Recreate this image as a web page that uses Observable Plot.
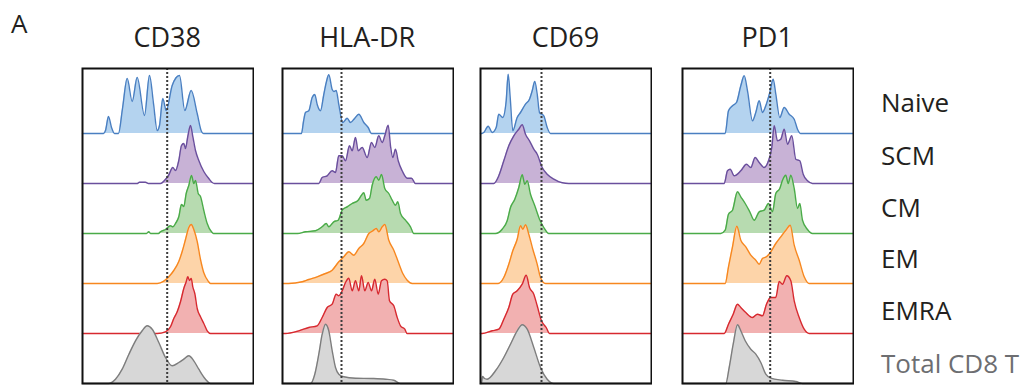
<!DOCTYPE html>
<html><head><meta charset="utf-8">
<script src="https://cdn.jsdelivr.net/npm/d3@7"></script>
<script src="https://cdn.jsdelivr.net/npm/@observablehq/plot@0.6"></script>
<style>
html,body{margin:0;padding:0;background:#fff;}
#wrap{position:relative;width:1035px;height:385px;overflow:hidden;font-family:"Open Sans",sans-serif;}
.panel{position:absolute;top:66px;}
#overlay{position:absolute;left:0;top:0;}
</style></head><body><div id="wrap"></div>
<script>
// ---------- categories ----------
const markers = ["CD38", "HLA-DR", "CD69", "PD1"];
const populations = ["Naive", "SCM", "CM", "EM", "EMRA", "Total CD8 T"];
// gate thresholds (dotted line), intensity units
const thresholds = [84.7, 59, 61, 87.7];
const intensityMax = 171;

// ---------- histograms: [intensity, count] ----------
const cd38Naive = [[21,0],[23,3],[26,17],[29,6],[32,0],[36,0],[40,25],[44.7,55],[49.7,32],[54.7,56],[62,18],[67,58],[71,30],[74.7,3],[77,8],[80.3,35],[83.7,23],[89.7,48],[97,58],[102.3,23],[108.7,43],[114.7,20],[119,2],[121,0]];
const cd38SCM = [[55,0],[57,1.3],[63,1.3],[66,0],[78,0],[82,3],[86,8],[90.3,16],[93,13],[96.3,23],[99,38],[101.3,40],[103,35],[105.3,47],[108,58],[110.3,47],[113,33],[116.3,23],[121.3,12],[126.3,5],[129.7,1],[132,0]];
const cd38CM = [[64,0],[66.3,1.7],[68,0],[76,0],[78,1.7],[83,4],[88,7.7],[90.5,6.7],[93,10],[96.3,16.7],[99,29],[101.3,27],[103.7,40],[106.3,48],[109,58],[111.3,50],[113,53],[115.7,40],[118,37],[121.3,23],[124.7,10],[129,1.7],[131,0]];
const cd38EM = [[74.7,0],[81.3,2.3],[86.3,6.7],[91.3,13],[96.3,22],[99.7,32],[103,44],[106.3,56],[108.7,59],[111.3,54],[114.7,42],[118,24],[121.3,10.7],[125.7,2.3],[128,0]];
const cd38EMRA = [[74.7,0],[83,1.7],[88,6.7],[91.3,15],[94.7,21.7],[98,31.7],[101.3,45],[103.7,51.7],[105.3,56.7],[107,53],[108.7,55],[110.3,46.7],[112.3,40],[114.7,25],[118,16.7],[121.3,10],[124.7,2.7],[128,0]];
const cd38Total = [[26,0],[33,4.3],[39.7,14.3],[46.3,29],[53,42.7],[59.7,52.7],[64.7,57.7],[69.7,54.3],[76.3,41],[83,26],[89.7,17.7],[96.3,21],[101.3,24.3],[106.3,27.7],[111.3,22.7],[116.3,14.3],[123,4.3],[128,0]];

const hladrNaive = [[19,0],[21,12],[23,21],[26.3,22.7],[29.7,36],[32.3,39],[34.7,29],[38,22.7],[41.3,39],[44,52],[46.3,58.7],[49.7,44],[51.5,42],[53.7,43],[56.3,29],[60.3,11],[64.7,15.3],[68,11],[72.3,15.3],[76.3,19.3],[81.3,11],[85.7,6],[89,0]];
const hladrSCM = [[36.3,0],[39.7,6],[44.7,7.7],[49.7,12.7],[53,11],[56.3,27.7],[59.7,27.7],[63,22.7],[67,37.7],[69.7,32.7],[73,46],[75.7,32.7],[79.7,36],[84.7,26],[89,41],[92.3,36],[96.3,47.7],[99.7,41],[102.3,47.7],[105.7,58.3],[108,37.7],[110.3,26],[113,34.3],[115.7,22.7],[119.7,12.7],[124.7,5.3],[129,5.3],[133,0]];
const hladrCM = [[15,0],[23,1.7],[33,2.7],[39.7,6.7],[43.7,10],[46.3,6.7],[51.3,11.7],[55.7,13.3],[59.7,23.3],[64.7,26.7],[69.7,30],[75.7,33.3],[79,38.3],[81.3,40.7],[83.7,33.3],[87,35],[89.7,48.3],[93.7,56.7],[96.3,53.3],[99,59],[102.3,45],[106.3,40],[109.7,33.3],[113,28.3],[115.3,31.7],[118,20],[123,13.3],[128,6.7],[131.3,0]];
const hladrEM = [[6,0],[19.7,1.7],[26.3,4],[34.7,6.7],[43,10],[49.7,13.3],[56.3,21.7],[61.3,26.7],[66.3,31.7],[71.3,28.3],[76.3,35],[81.3,40],[86.3,50],[90.3,52.7],[93.7,55],[96.3,51.7],[99.7,56.7],[102.3,59],[106.3,43.3],[111.3,33.3],[115.7,21.7],[120.3,10],[124.7,3.3],[129.7,0]];
const hladrEMRA = [[3,0],[16.3,2.7],[26.3,6],[34.7,7.7],[39.7,16],[44.7,26],[49.7,29.3],[53.7,39.3],[56.3,37.7],[59.7,42.7],[63,51],[66.3,55.3],[69.7,42.7],[73,52.7],[76.3,42.7],[79,57.7],[82.3,42.7],[85.7,51],[89,42.7],[92.3,54.3],[95.7,39.3],[99,52.7],[102.3,54.3],[104.7,52.7],[107,32.7],[111.3,27.7],[114.7,16],[118,7.7],[122.3,4.3],[124.7,0]];
const hladrTotal = [[28,0],[32.3,9.3],[36.3,29.3],[39.7,49.3],[43,59.3],[46.3,52.7],[49.7,32.7],[53,16],[56.3,9.3],[61.3,6.7],[73,5.3],[89.7,5],[103,4.3],[111.3,3.3],[118,0]];

const cd69Naive = [[1.5,0],[3.3,1],[7.7,7.3],[11.7,1],[15.7,6],[18.3,19.3],[22.3,16],[25.7,32.7],[27.7,59.3],[29.7,36],[32.3,2.7],[36.7,16],[40,21],[45,29.3],[49,34.3],[51.7,42.7],[54.3,52],[56.7,39.3],[59,21],[63.3,17.7],[66.7,6],[70,0]];
const cd69SCM = [[13.3,0],[18.3,7.7],[23.3,22.7],[28.3,37.7],[33.3,47.7],[38.3,54.3],[41.7,58.7],[45,49.3],[49,42.7],[53.3,34.3],[56.7,29.3],[61.7,16],[66.7,9.3],[73.3,4.3],[81.7,0.7],[88.3,0]];
const cd69CM = [[15,0],[21.7,4.3],[26.7,12.7],[30,26],[34.3,34.3],[38.3,46],[41.7,58.7],[44.3,49.3],[46.7,52.7],[50,39.3],[54.3,27.7],[59,14.3],[63.3,6],[68.3,0]];
const cd69EM = [[17.7,0],[23.3,6],[28.3,19.3],[32.3,32.7],[36.7,44.3],[40,57.7],[42.3,54.3],[45,58.7],[48.3,49.3],[52.3,34.3],[56.7,19.3],[60,6],[65,0]];
const cd69EMRA = [[1.7,0],[11.7,2.7],[18.3,4.3],[23.3,14.3],[28.3,26],[32.3,39.3],[36.7,42.7],[41.7,49.3],[45.7,58.3],[49,46],[53.3,39.3],[56.7,27.7],[61,12.7],[65.7,6],[69,0]];
const cd69Total = [[1,0],[2,7],[4,5],[6.7,4.3],[15,12.7],[23.3,26],[30,39.3],[36.7,52.7],[41.7,58.7],[46.7,54.3],[53.3,36],[60,16],[66.7,4.3],[73.3,0]];

const pd1Naive = [[42.7,0],[46,22.7],[50,27.7],[54,31],[58.3,47.7],[61.7,57.7],[65,42.7],[70,12.7],[73.3,21],[76.7,32.7],[80,21],[83.3,27.7],[87.3,41],[90.7,54.3],[93.3,39.3],[97.3,16],[101.7,26],[106.7,19.3],[111.7,14.3],[115,4.3],[118.3,0]];
const pd1SCM = [[41.7,0],[45,12.7],[47.7,14.3],[51.7,7.7],[58.3,12.7],[64,19.3],[68.3,16],[72.7,26],[76.7,21],[81.7,16],[86,22.7],[89.3,36],[91.7,57.7],[95,42.7],[98.3,44.3],[101.7,54.3],[105,39.3],[109.3,47.7],[113.3,24.3],[117.3,22.7],[120.7,9.3],[125,2.7],[130,0]];
const pd1CM = [[38.3,0],[42.7,3.3],[46,19.3],[50,23.3],[55,41.7],[58.3,36.7],[62.7,30],[67.3,21.7],[71.7,13.3],[76.7,21.7],[81.7,23.3],[86,30],[90,21.7],[93.3,40],[97.3,45],[100,53.3],[103.3,58.3],[105.7,50],[108.3,58.3],[111.7,45],[115,25],[117.3,30],[120,13.3],[125,4],[130,0]];
const pd1EM = [[42.7,0],[46,16.7],[50,36.7],[54.3,57.3],[58.3,43.3],[63.3,36.7],[68.3,28.3],[73.3,23.3],[76.7,19.3],[80,25],[84,26.7],[88.3,31.7],[93.3,40],[98.3,46.7],[103.3,53.3],[107.7,58.3],[111.7,38.3],[116.7,23.3],[121.7,6.7],[126.7,0]];
const pd1EMRA = [[41.7,0],[46,9.3],[50.7,19.3],[55,29.3],[58.3,26],[63.3,21],[70,16],[75,19.3],[80,17.7],[84,29.3],[88.3,36],[93.3,36],[96.7,52],[100,49.3],[104.3,57.7],[108.3,52.7],[111.7,32.7],[116.7,16],[121.7,4.3],[126.7,0]];
const pd1Total = [[43.3,0],[46.7,16],[50.7,39.3],[55,58.7],[58.3,52.7],[62.7,42.7],[68.3,34.3],[73.3,29.3],[78.3,21],[83.3,9.3],[88.3,5.3],[100,3.3],[113.3,2],[120,0]];

const histograms = [
  [cd38Naive, cd38SCM, cd38CM, cd38EM, cd38EMRA, cd38Total],
  [hladrNaive, hladrSCM, hladrCM, hladrEM, hladrEMRA, hladrTotal],
  [cd69Naive, cd69SCM, cd69CM, cd69EM, cd69EMRA, cd69Total],
  [pd1Naive, pd1SCM, pd1CM, pd1EM, pd1EMRA, pd1Total]
];

// ---------- styles / layout ----------
const lineColors = ["#4a7fc1", "#6a4f9d", "#4aab48", "#f7871f", "#d7292f", "#7d7d7d"];
const fillColors = ["#b4d3ef", "#c8b2d6", "#b7dbb0", "#fdd4a9", "#f2b1b1", "#d7d7d7"];
const panelLefts = [81.7, 281.7, 480, 681.7];
const rowStep = 50;      // count units between ridge baselines
const yTop = 315;        // count units at frame top

const wrap = document.getElementById("wrap");

histograms.forEach((rows, p) => {
  const marks = [];
  rows.forEach((hist, r) => {
    const offset = (populations.length - 1 - r) * rowStep;
    const data = [[0, 0], ...hist, [intensityMax, 0]].map(([x, c]) => ({x, c, y1: offset, y2: offset + c}));
    marks.push(Plot.areaY(data, {x: "x", y1: "y1", y2: "y2", fill: fillColors[r], curve: "monotone-x"}));
    marks.push(Plot.line(data, {x: "x", y: "y2", stroke: lineColors[r], strokeWidth: 1.4, curve: "monotone-x"}));
  });
  marks.push(Plot.ruleX([thresholds[p]], {stroke: "#3c3c3c", strokeWidth: 2, strokeDasharray: "2,2"}));
  marks.push(Plot.frame({stroke: "#111", strokeWidth: 2}));
  const svg = Plot.plot({
    width: 173, height: 319,
    marginLeft: 1, marginRight: 1, marginTop: 2, marginBottom: 2,
    x: {domain: [0, intensityMax], axis: null},
    y: {domain: [0, yTop], axis: null},
    marks
  });
  svg.classList.add("panel");
  svg.style.left = (panelLefts[p] - 1) + "px";
  wrap.appendChild(svg);
});

// ---------- text overlay ----------
const ns = "http://www.w3.org/2000/svg";
const ov = document.createElementNS(ns, "svg");
ov.setAttribute("id", "overlay");
ov.setAttribute("width", 1035);
ov.setAttribute("height", 385);
function addText(str, x, y, size, anchor, color) {
  const t = document.createElementNS(ns, "text");
  t.setAttribute("x", x); t.setAttribute("y", y);
  t.setAttribute("font-size", size);
  t.setAttribute("font-family", "'Open Sans', sans-serif");
  t.setAttribute("text-anchor", anchor);
  t.setAttribute("fill", color);
  t.textContent = str;
  ov.appendChild(t);
}
addText("A", 11, 33, 26, "start", "#231f20");
markers.forEach((m, i) => addText(m, panelLefts[i] + 85.5, 47, 27, "middle", "#231f20"));
const labelBaselines = [112, 165, 217, 268, 320, 373];
populations.forEach((pop, i) => addText(pop, 881, labelBaselines[i], 26, "start", i === 5 ? "#6d6e71" : "#231f20"));
wrap.appendChild(ov);
</script>
</body></html>
